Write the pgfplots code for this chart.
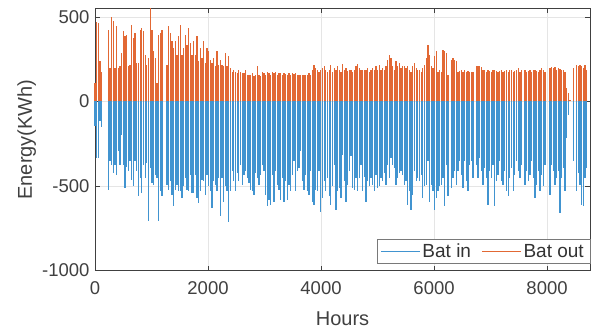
\documentclass[border=0pt]{standalone}
\usepackage{pgfplots}
\pgfplotsset{compat=1.18}
\usepackage{pgfplotstable}
\usepackage{fontspec}
\setmainfont{Liberation Sans}
\definecolor{matblue}{RGB}{65,148,208}
\definecolor{matorange}{RGB}{226,104,52}
\definecolor{axgray}{RGB}{64,64,64}
\pgfplotstableread{
out in
108 -148
473 -335
463 -335
237 -118
177 -150
0 0
0 0
0 0
424 -523
197 -355
497 -375
477 -424
197 -375
444 -434
197 -296
207 -375
286 -197
414 -375
385 -513
394 -385
207 -414
217 -355
454 -463
375 -503
404 -355
227 -414
227 -562
424 -454
434 -542
414 -375
276 -454
217 -365
256 -706
550 -394
424 -483
296 -493
256 -434
108 -454
394 -710
404 -532
424 -562
0 0
0 0
217 -493
444 -523
404 -473
355 -552
316 -621
355 -523
276 -493
385 -532
454 -532
276 -572
316 -503
394 -454
335 -523
434 -532
345 -434
276 -542
355 -542
276 -434
385 -572
237 -601
316 -532
256 -463
355 -473
227 -552
316 -434
296 -503
246 -532
227 -631
256 -473
207 -493
296 -532
217 -454
246 -680
217 -454
207 -592
286 -503
207 -532
266 -714
197 -532
177 -414
187 -473
177 -532
168 -424
187 -473
177 -375
168 -493
168 -434
187 -414
158 -454
158 -483
158 -523
168 -532
148 -552
158 -424
207 -454
158 -493
148 -434
177 -375
168 -414
158 -552
177 -621
168 -582
158 -611
177 -434
168 -592
177 -414
158 -493
168 -523
168 -582
158 -454
168 -592
162 -473
158 -582
168 -493
158 -532
168 -434
162 -355
168 -532
158 -414
158 -394
154 -296
158 -473
154 -523
158 -434
158 -532
168 -552
158 -414
187 -592
213 -611
197 -523
187 -532
177 -414
187 -651
197 -572
207 -473
187 -532
177 -454
187 -562
217 -611
177 -503
197 -375
187 -641
207 -532
187 -513
177 -572
221 -316
187 -473
197 -592
181 -493
187 -414
187 -325
177 -513
187 -523
207 -454
221 -532
197 -454
187 -375
187 -532
187 -444
187 -592
197 -473
177 -503
187 -454
197 -493
187 -532
207 -434
187 -513
217 -503
187 -454
197 -473
187 -424
207 -493
246 -375
276 -454
256 -335
207 -375
187 -394
237 -493
207 -454
227 -424
197 -414
207 -434
207 -493
197 -473
207 -611
187 -532
177 -641
207 -552
227 -414
197 -473
187 -454
187 -473
177 -434
197 -572
217 -503
256 -493
335 -355
276 -592
207 -493
197 -532
266 -641
296 -572
177 -532
187 -503
177 -493
306 -454
296 -621
286 -375
158 -562
0 0
246 -513
256 -454
246 -414
237 -493
177 -414
181 -355
187 -434
177 -513
187 -355
177 -473
181 -532
177 -375
177 -355
177 -454
0 0
207 -375
207 -454
207 -335
201 -414
187 -493
187 -394
177 -454
187 -611
181 -414
177 -454
187 -375
187 -621
181 -473
177 -434
181 -355
187 -473
177 -493
181 -414
187 -532
177 -562
187 -454
187 -394
177 -532
181 -434
187 -355
197 -414
177 -454
187 -375
0 0
187 -493
177 -414
181 -473
187 -434
177 -355
187 -454
187 -572
181 -493
177 -414
187 -532
197 -434
187 -503
177 -375
0 0
0 0
197 -552
201 -375
197 -414
201 -493
187 -454
197 -414
190 -661
187 -454
187 -394
177 -532
79 -217
49 -79
10 0
0 0
197 -355
0 0
217 -532
207 -424
217 -493
207 -611
197 -621
217 -454
187 -394
}\energy
\begin{document}
\begin{tikzpicture}
\begin{axis}[
  scale only axis, width=495pt, height=262pt,
  xmin=0, xmax=8760, ymin=-1000, ymax=550,
  xtick={0,2000,4000,6000,8000}, ytick={-1000,-500,0,500},
  grid=major, grid style={line width=0.5pt, draw=gray!20},
  axis line style={draw=axgray, line width=0.6pt},
  tick style={draw=axgray, line width=0.6pt}, major tick length=5pt, tick align=inside,
  tick pos=both,
  ticklabel style={font=\fontsize{18.5}{20}\selectfont, text=axgray},
  xticklabel style={yshift=-8pt},
  yticklabel style={xshift=-2pt},
  /pgf/number format/assume math mode=true,
  /pgf/number format/1000 sep={},
  scaled ticks=false,
  xlabel={Hours}, ylabel={Energy(KWh)},
  label style={font=\fontsize{20}{22}\selectfont, text=axgray},
  xlabel style={at={(axis description cs:0.5,-0.183)}, anchor=center},
  ylabel style={at={(axis description cs:-0.138,0.5)}, anchor=center},
  clip=false,
  legend columns=2,
  legend style={at={(axis description cs:1,0.025)}, anchor=south east,
    draw=axgray!70, line width=0.5pt, font=\fontsize{19}{21}\selectfont,
    text=black!80, inner xsep=4pt, inner ysep=2.5pt},
  legend image code/.code={\draw[#1, line width=0.5pt] (0pt,0pt) -- (39pt,0pt);},
]
\addplot[ycomb, matblue, line width=1.3pt] table[x expr=\coordindex*29.6, y=in] {\energy};
\addlegendentry{Bat in\rule{9pt}{0pt}}
\addplot[ycomb, matorange, line width=1.3pt] table[x expr=\coordindex*29.6, y=out] {\energy};
\addlegendentry{Bat out}
\path (rel axis cs:-0.1919,-0.2385) (rel axis cs:1.0141,1.0324);
\end{axis}
\end{tikzpicture}
\end{document}
